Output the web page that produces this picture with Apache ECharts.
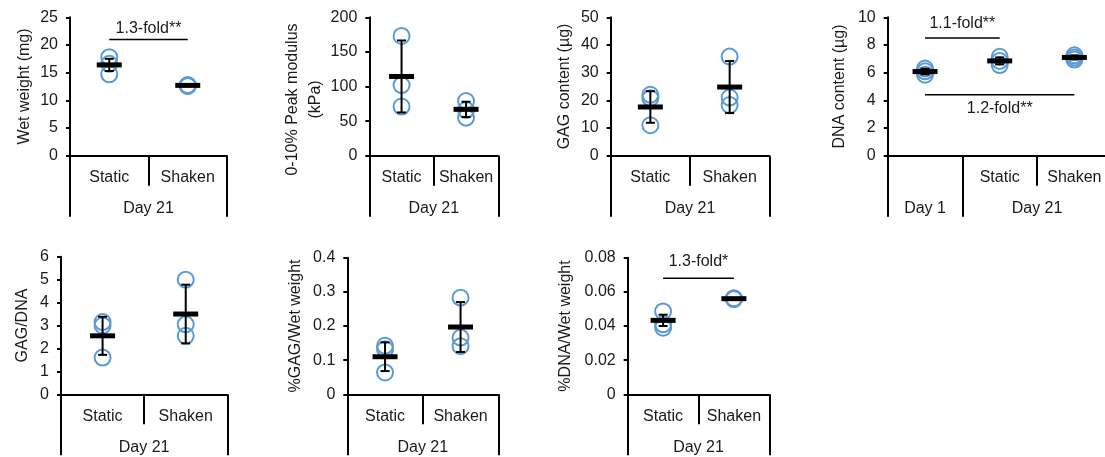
<!DOCTYPE html>
<html>
<head>
<meta charset="utf-8">
<script src="https://cdn.jsdelivr.net/npm/echarts@6/dist/echarts.min.js"></script>
<style>
  html, body { margin: 0; padding: 0; background: #fff; overflow: hidden; }
  /* the DNA panel runs a few pixels past the right edge of the window */
  #chart { width: 1115px; height: 457px; }
</style>
</head>
<body>
<div id="chart"></div>
<script>
// ---- Categories ----
const day21Conditions = ['Static', 'Shaken'];
const dnaConditions = ['', 'Static', 'Shaken'];
const day21Group = ['Day 21'];
const day21GroupSpan = [2];
const dnaGroups = ['Day 1', 'Day 21'];
const dnaGroupSpan = [1, 2];

// ---- Wet weight (mg) ----
const wetWeightStatic = [17.8, 16.6, 14.7];
const wetWeightShaken = [12.6, 12.65, 12.75];
const wetWeightMean = [16.4, 12.7];
const wetWeightSD = [1.1, 0.15];
const wetWeightSig = [{ from: 0, to: 1, y: 21, text: '1.3-fold**', side: 'top' }];

// ---- 0-10% peak modulus (kPa) ----
const modulusStatic = [173, 102, 71];
const modulusShaken = [79, 66, 55];
const modulusMean = [114.5, 67];
const modulusSD = [52, 11];

// ---- GAG content (µg) ----
const gagStatic = [22, 20.8, 11];
const gagShaken = [35.8, 21, 18.3];
const gagMean = [17.6, 24.8];
const gagSD = [5.7, 9.4];

// ---- DNA content (µg) ----
const dnaDay1 = [6.3, 6.1, 5.85];
const dnaStatic = [7.15, 6.85, 6.55];
const dnaShaken = [7.25, 7.1, 6.95];
const dnaMean = [6.08, 6.85, 7.1];
const dnaSD = [0.2, 0.25, 0.15];
const dnaSig = [
  { from: 0, to: 1, y: 8.5, text: '1.1-fold**', side: 'top' },
  { from: 0, to: 2, y: 4.4, text: '1.2-fold**', side: 'bottom' }
];

// ---- GAG/DNA ----
const gagDnaStatic = [3.15, 3.0, 1.6];
const gagDnaShaken = [5.0, 3.05, 2.55];
const gagDnaMean = [2.55, 3.5];
const gagDnaSD = [0.83, 1.28];

// ---- %GAG/Wet weight ----
const gagWwStatic = [0.142, 0.132, 0.064];
const gagWwShaken = [0.283, 0.166, 0.141];
const gagWwMean = [0.110, 0.197];
const gagWwSD = [0.042, 0.073];

// ---- %DNA/Wet weight ----
const dnaWwStatic = [0.0485, 0.041, 0.039];
const dnaWwShaken = [0.0558, 0.0562, 0.056];
const dnaWwMean = [0.0433, 0.056];
const dnaWwSD = [0.0033, 0.0003];
const dnaWwSig = [{ from: 0, to: 1, y: 0.068, text: '1.3-fold*', side: 'top' }];

// ---- Panel definitions ----
const panels = [
  { cats: day21Conditions, groups: day21Group, spans: day21GroupSpan, points: [wetWeightStatic, wetWeightShaken], mean: wetWeightMean, sd: wetWeightSD, yMax: 25, yStep: 5, yName: 'Wet weight (mg)', sig: wetWeightSig },
  { cats: day21Conditions, groups: day21Group, spans: day21GroupSpan, points: [modulusStatic, modulusShaken], mean: modulusMean, sd: modulusSD, yMax: 200, yStep: 50, yName: '0-10% Peak modulus\n(kPa)', sig: [] },
  { cats: day21Conditions, groups: day21Group, spans: day21GroupSpan, points: [gagStatic, gagShaken], mean: gagMean, sd: gagSD, yMax: 50, yStep: 10, yName: 'GAG content (µg)', sig: [] },
  { cats: dnaConditions, groups: dnaGroups, spans: dnaGroupSpan, points: [dnaDay1, dnaStatic, dnaShaken], mean: dnaMean, sd: dnaSD, yMax: 10, yStep: 2, yName: 'DNA content (µg)', sig: dnaSig },
  { cats: day21Conditions, groups: day21Group, spans: day21GroupSpan, points: [gagDnaStatic, gagDnaShaken], mean: gagDnaMean, sd: gagDnaSD, yMax: 6, yStep: 1, yName: 'GAG/DNA', sig: [] },
  { cats: day21Conditions, groups: day21Group, spans: day21GroupSpan, points: [gagWwStatic, gagWwShaken], mean: gagWwMean, sd: gagWwSD, yMax: 0.4, yStep: 0.1, yName: '%GAG/Wet weight', sig: [] },
  { cats: day21Conditions, groups: day21Group, spans: day21GroupSpan, points: [dnaWwStatic, dnaWwShaken], mean: dnaWwMean, sd: dnaWwSD, yMax: 0.08, yStep: 0.02, yName: '%DNA/Wet weight', sig: dnaWwSig }
];

// ---- Layout and style ----
const layouts = [
  { left: 70,    top: 17.3,  width: 157,   height: 138.4, nameGap: 34, namePad: 0,  sigGap: 11 },
  { left: 369.3, top: 17.3,  width: 129,   height: 138.4, nameGap: 36, namePad: 26, sigGap: 12 },
  { left: 610.7, top: 17.3,  width: 158.6, height: 138.4, nameGap: 35, namePad: 0,  sigGap: 12 },
  { left: 887.7, top: 17.3,  width: 224,   height: 138.4, nameGap: 37, namePad: 0,  sigGap: 14 },
  { left: 61,    top: 256.7, width: 166.3, height: 137.6, nameGap: 27, namePad: 0,  sigGap: 12 },
  { left: 347.3, top: 257.7, width: 151,   height: 136.6, nameGap: 40, namePad: 0,  sigGap: 12 },
  { left: 627.7, top: 257.7, width: 141.6, height: 136.6, nameGap: 51, namePad: 0,  sigGap: 17 }
];

const FONT = '"Liberation Sans", Arial, sans-serif';
const TEXT = '#1a1a1a';
const CIRCLE = '#5B9BD5';
const INK = '#000';

const textStyle = { fontSize: 16, color: TEXT, fontFamily: FONT };

const option = {
  animation: false,
  backgroundColor: '#fff',
  grid: [], xAxis: [], yAxis: [], series: []
};

panels.forEach((p, i) => {
  const L = layouts[i];
  const n = p.cats.length;
  option.grid.push({
    left: L.left, top: L.top, width: L.width, height: L.height,
    containLabel: false, outerBoundsMode: 'none'
  });

  // sub-condition axis (carries the marks)
  option.xAxis.push({
    type: 'category', gridIndex: i, data: p.cats, position: 'bottom', boundaryGap: true,
    axisLine: { show: true, onZero: false, lineStyle: { color: INK, width: 2 } },
    axisTick: { show: true, length: 30, lineStyle: { color: INK, width: 2 } },
    axisLabel: Object.assign({ margin: 14, interval: 0 }, textStyle),
    splitLine: { show: false }
  });

  // group axis (Day 1 / Day 21 spans)
  const bounds = [0];
  const centers = [];
  p.spans.forEach(s => {
    const b = bounds[bounds.length - 1];
    centers.push(b + s / 2);
    bounds.push(b + s);
  });
  option.xAxis.push({
    type: 'value', gridIndex: i, position: 'bottom', min: 0, max: n,
    axisLine: { show: false, onZero: false },
    axisTick: { show: true, customValues: bounds, length: 61, lineStyle: { color: INK, width: 2 } },
    axisLabel: Object.assign({
      customValues: centers, margin: 45,
      formatter: v => { const k = centers.indexOf(v); return k >= 0 ? p.groups[k] : ''; }
    }, textStyle),
    splitLine: { show: false }
  });

  option.yAxis.push({
    type: 'value', gridIndex: i, min: 0, max: p.yMax, interval: p.yStep,
    name: p.yName, nameLocation: 'middle', nameGap: L.nameGap,
    nameTextStyle: Object.assign({ lineHeight: 23, padding: [0, L.namePad, 0, 0] }, textStyle),
    axisLine: { show: true, lineStyle: { color: INK, width: 2 } },
    axisTick: { show: true, length: 4, lineStyle: { color: INK, width: 2 } },
    axisLabel: Object.assign({ margin: 12 }, textStyle),
    splitLine: { show: false }
  });

  const xi = i * 2;

  // individual replicates
  const pts = [];
  p.points.forEach((arr, c) => arr.forEach(v => pts.push([c, v])));
  option.series.push({
    type: 'scatter', xAxisIndex: xi, yAxisIndex: i, data: pts,
    symbol: 'circle', symbolSize: 16,
    itemStyle: { color: 'rgba(0,0,0,0)', borderColor: CIRCLE, borderWidth: 2, opacity: 1 },
    z: 2
  });

  // mean ± SD
  option.series.push({
    type: 'custom', xAxisIndex: xi, yAxisIndex: i, z: 3,
    data: p.mean.map((m, c) => [c, m, p.sd[c]]),
    renderItem: (params, api) => {
      const x = api.value(0), m = api.value(1), s = api.value(2);
      const c = api.coord([x, m]);
      const hi = api.coord([x, m + s]);
      const lo = api.coord([x, m - s]);
      const cap = 4.5, half = 12.5;
      const st = { stroke: INK, lineWidth: 2 };
      return {
        type: 'group', children: [
          { type: 'line', shape: { x1: c[0], y1: hi[1], x2: c[0], y2: lo[1] }, style: st },
          { type: 'line', shape: { x1: c[0] - cap, y1: hi[1], x2: c[0] + cap, y2: hi[1] }, style: st },
          { type: 'line', shape: { x1: c[0] - cap, y1: lo[1], x2: c[0] + cap, y2: lo[1] }, style: st },
          { type: 'line', shape: { x1: c[0] - half, y1: c[1], x2: c[0] + half, y2: c[1] }, style: { stroke: INK, lineWidth: 5 } }
        ]
      };
    }
  });

  // fold-change brackets
  if (p.sig.length) {
    option.series.push({
      type: 'custom', xAxisIndex: xi, yAxisIndex: i, z: 3,
      data: p.sig.map(s => [s.from, s.to, s.y]),
      renderItem: (params, api) => {
        const s = p.sig[params.dataIndex];
        const a = api.coord([api.value(0), api.value(2)]);
        const b = api.coord([api.value(1), api.value(2)]);
        const dy = s.side === 'top' ? -L.sigGap : L.sigGap;
        return {
          type: 'group', children: [
            { type: 'line', shape: { x1: a[0], y1: a[1], x2: b[0], y2: b[1] }, style: { stroke: INK, lineWidth: 1.5 } },
            { type: 'text', x: (a[0] + b[0]) / 2, y: a[1] + dy,
              style: { text: s.text, fill: TEXT, font: '16px ' + FONT, align: 'center', verticalAlign: 'middle' } }
          ]
        };
      }
    });
  }
});

const chart = echarts.init(document.getElementById('chart'), null, { renderer: 'canvas' });
chart.setOption(option);
</script>
</body>
</html>
